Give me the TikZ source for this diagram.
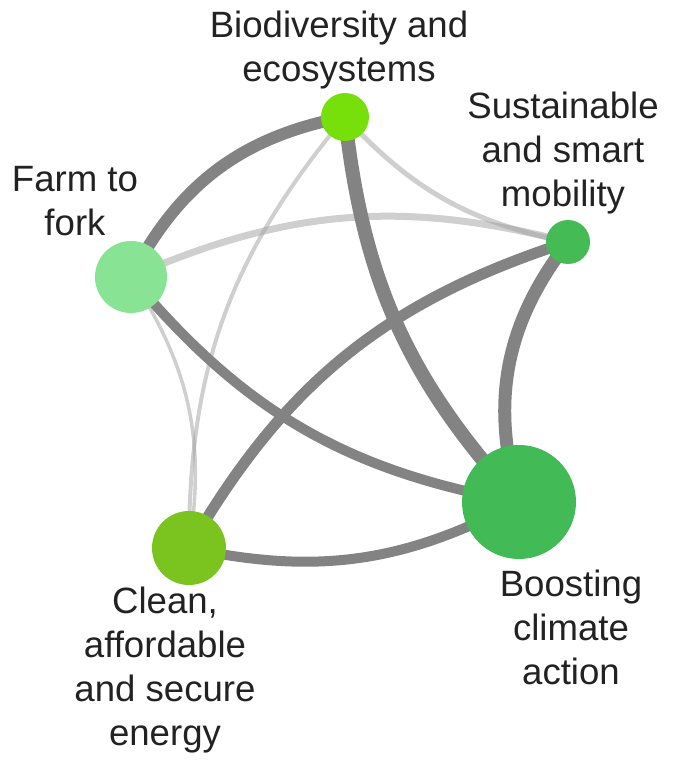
\documentclass[tikz,border=0pt]{standalone}
\usepackage{fontspec}
\setmainfont{Liberation Sans}
\pgfdeclarelayer{background}
\pgfsetlayers{background,main}
\definecolor{edgedark}{HTML}{838383}
\definecolor{edgelight}{HTML}{9F9F9F}
\definecolor{cbio}{HTML}{77E00A}
\definecolor{cmob}{HTML}{44BB55}
\definecolor{cfarm}{HTML}{88E395}
\definecolor{cclean}{HTML}{7BC31F}
\definecolor{cboost}{HTML}{42BA55}
\definecolor{labeltext}{HTML}{222222}
\begin{document}
\begin{tikzpicture}[x=1pt,y=1pt,
  dot/.style={circle,inner sep=0pt,draw=none,minimum size=#1},
  darkedge/.style={draw=edgedark,line width=#1},
  lightedge/.style={draw=edgelight,draw opacity=0.5,line width=#1},
  lbl/.style={align=center,text=labeltext,font=\fontsize{36.6}{44}\selectfont,inner sep=0pt}]
\useasboundingbox (0,0) rectangle (678,780);
% nodes
\node[dot=48,fill=cbio]   (bio)   at (345,663) {};
\node[dot=44,fill=cmob]   (mob)   at (568,538) {};
\node[dot=72,fill=cfarm]  (farm)  at (131,503) {};
\node[dot=74,fill=cclean] (clean) at (189,232) {};
\node[dot=114,fill=cboost](boost) at (519,278) {};
% labels
\node[lbl] (lbio)   at (339,730) {Biodiversity and\\ecosystems};
\node[lbl] (lmob)   at (563,627) {Sustainable\\and smart\\mobility};
\node[lbl] (lfarm)  at (75,579)  {Farm to\\fork};
\node[lbl] (lclean) at (165,110) {Clean,\\affordable\\and secure\\energy};
\node[lbl] (lboost) at (571,153) {Boosting\\climate\\action};
% edges
\begin{pgfonlayer}{background}
\draw[lightedge=7] (farm.center) to[bend left=19] (mob.center);
\draw[lightedge=5] (bio.center) to[bend right=18] (mob.center);
\draw[lightedge=4] (bio.center) to[bend right=20] (clean.center);
\draw[lightedge=3.5] (farm.center) to[bend left=21] (clean.center);
\draw[darkedge=12] (farm.center) to[bend left=26] (bio.center);
\draw[darkedge=14] (bio.center) to[bend right=18] (boost.center);
\draw[darkedge=10] (farm.center) to[bend right=20] (boost.center);
\draw[darkedge=11] (mob.center) to[bend right=21] (clean.center);
\draw[darkedge=13] (mob.center) to[bend right=27] (boost.center);
\draw[darkedge=10] (clean.center) to[bend right=20] (boost.center);
\end{pgfonlayer}
\end{tikzpicture}
\end{document}
